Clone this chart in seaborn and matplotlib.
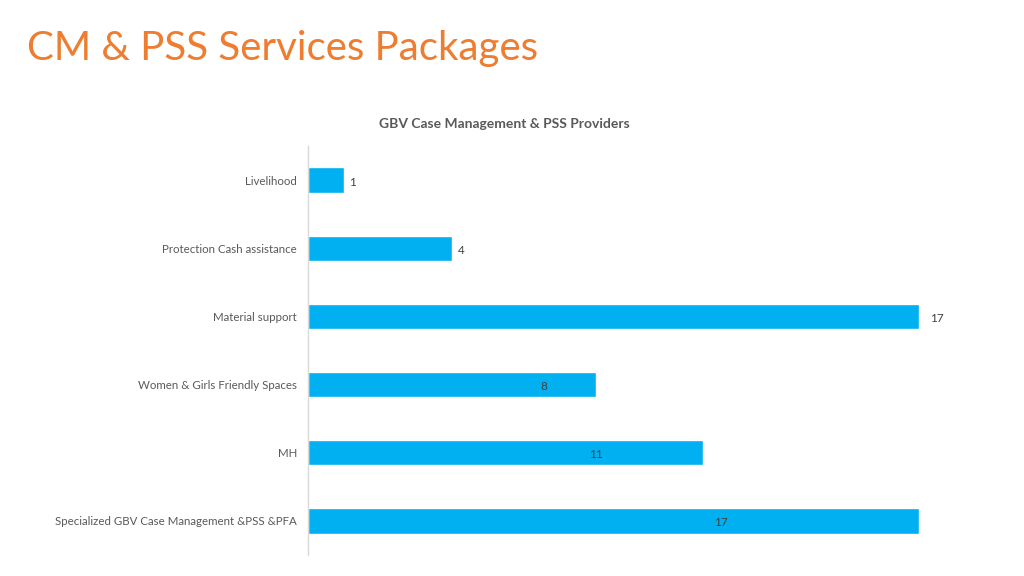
import matplotlib
matplotlib.use("Agg")
import matplotlib.pyplot as plt
import seaborn as sns
import pandas as pd

# --- datos ---
categories = [
    "Livelihood",
    "Protection Cash assistance",
    "Material support",
    "Women & Girls Friendly Spaces",
    "MH",
    "Specialized GBV Case Management &PSS &PFA",
]
values = [1, 4, 17, 8, 11, 17]
# posicion (en unidades del eje x) de cada etiqueta de dato
label_pos = [1.15, 4.17, 17.3, 6.55, 8.0, 11.5]
label_ha = ["left", "left", "left", "center", "center", "center"]

main_title = "CM & PSS Services Packages"
chart_title = "GBV Case Management & PSS Providers"

BAR_COLOR = "#00B0F0"
TEXT_GRAY = "#595959"
ORANGE = "#ED7D31"

sns.set_theme(style="white")
plt.rcParams["font.family"] = ["Lato", "DejaVu Sans"]

df = pd.DataFrame({"cat": categories, "val": values})

fig = plt.figure(figsize=(10.24, 5.76), dpi=100)
ax = fig.add_axes([0.3008, 0.0365, 0.63, 0.71])

sns.barplot(data=df, x="val", y="cat", color=BAR_COLOR, width=0.37,
            saturation=1, ax=ax, orient="h")

ax.set_xlim(0, 17.95)
ax.set_ylim(5.5, -0.5)
ax.set_xlabel("")
ax.set_ylabel("")
ax.set_xticks([])
ax.tick_params(axis="y", length=0, pad=8, labelsize=8.3, labelcolor=TEXT_GRAY)

for s in ["top", "right", "bottom"]:
    ax.spines[s].set_visible(False)
ax.spines["left"].set_color("#D9D9D9")
ax.spines["left"].set_linewidth(1)

for i, (v, xp, ha) in enumerate(zip(values, label_pos, label_ha)):
    ax.text(xp, i + 0.03, str(v), ha=ha, va="center", fontsize=8.5,
            color="#404040")

fig.text(0.493, 0.784, chart_title, ha="center", va="center",
         fontsize=10, fontweight="bold", color=TEXT_GRAY)
fig.text(0.026, 0.916, main_title, ha="left", va="center",
         fontsize=29, color=ORANGE)

fig.savefig("out.png", dpi=100)
